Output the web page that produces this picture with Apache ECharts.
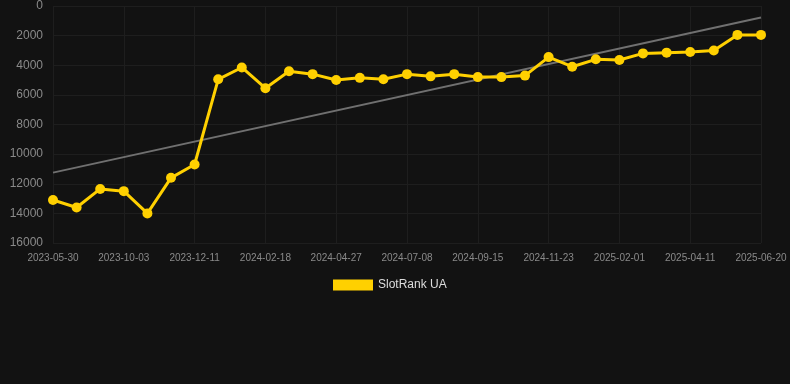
<!DOCTYPE html>
<html><head><meta charset="utf-8">
<script src="https://cdn.jsdelivr.net/npm/echarts@6/dist/echarts.min.js"></script>
<style>html,body{margin:0;padding:0;background:#121212;}#c{width:790px;height:384px;}</style>
</head><body><div id="c"></div>
<script>
const dates = ['2023-05-30','2023-07-11','2023-08-22','2023-10-03','2023-10-26','2023-11-18','2023-12-11','2024-01-03','2024-01-26','2024-02-18','2024-03-12','2024-04-04','2024-04-27','2024-05-21','2024-06-14','2024-07-08','2024-07-31','2024-08-23','2024-09-15','2024-10-08','2024-10-31','2024-11-23','2024-12-16','2025-01-08','2025-02-01','2025-02-24','2025-03-19','2025-04-11','2025-05-04','2025-05-27','2025-06-20'];
const rankUA = [13100,13600,12350,12500,14000,11600,10700,4950,4150,5550,4400,4600,5000,4850,4950,4600,4750,4600,4800,4800,4700,3450,4100,3600,3650,3200,3150,3100,3000,1950,1950];
const trend = [11250,null,null,null,null,null,null,null,null,null,null,null,null,null,null,null,null,null,null,null,null,null,null,null,null,null,null,null,null,null,770];
const yTicks = {min:0, max:16000, interval:2000};

const chart = echarts.init(document.getElementById('c'));
chart.setOption({
  backgroundColor:'#121212',
  animation:false,
  grid:{left:53, right:29, top:6, bottom:141, containLabel:false},
  legend:{top:279, left:333, padding:0, itemWidth:40, itemHeight:11, itemGap:6,
    textStyle:{color:'#dddddd', fontSize:12, fontFamily:'Arial, Liberation Sans, sans-serif'},
    data:[{name:'SlotRank UA', icon:'rect'}]},
  xAxis:{type:'category', data:dates, boundaryGap:false,
    axisLine:{show:false}, axisTick:{show:false},
    axisLabel:{color:'#8a8a8a', fontSize:10, interval:2, margin:10, fontFamily:'Arial, Liberation Sans, sans-serif'},
    splitLine:{show:true, interval:2, lineStyle:{color:'#1e1e1e', width:1}}},
  yAxis:{type:'value', inverse:true, min:yTicks.min, max:yTicks.max, interval:yTicks.interval,
    axisLine:{show:false}, axisTick:{show:false},
    axisLabel:{color:'#8a8a8a', fontSize:12, margin:10, formatter:function(v){return String(v);}, fontFamily:'Arial, Liberation Sans, sans-serif'},
    splitLine:{lineStyle:{color:'#1e1e1e', width:1}}},
  series:[
    {name:'trend', type:'line', data:trend, connectNulls:true, showSymbol:false, symbol:'none',
     lineStyle:{color:'#707070', width:2}, silent:true, z:1},
    {name:'SlotRank UA', type:'line', data:rankUA, symbol:'circle', symbolSize:10,
     itemStyle:{color:'#FFD000'}, lineStyle:{color:'#FFD000', width:3}, z:2}
  ]
});
</script></body></html>
